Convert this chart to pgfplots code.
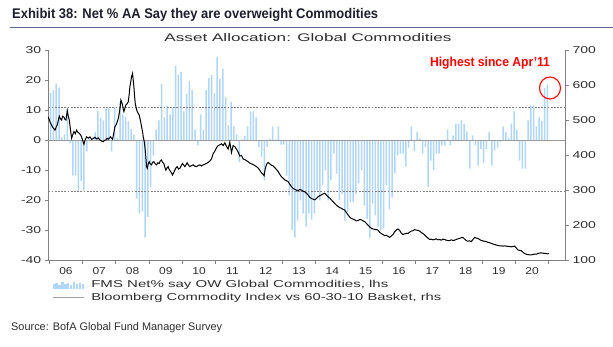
\documentclass[border=0pt]{standalone}
\usepackage{fontspec}
\setmainfont{Liberation Sans}
\usepackage{graphicx}
\usepackage{pgfplots}
\usepackage{pgfplotstable}
\pgfplotsset{compat=1.18}
\definecolor{barblue}{RGB}{178,214,250}
\definecolor{axgray}{RGB}{128,128,128}
\definecolor{txt}{RGB}{45,45,45}
\definecolor{rulec}{RGB}{90,105,135}
\definecolor{titlec}{RGB}{30,30,45}
\newcommand\sy[1]{\scalebox{1.4}[1]{#1}}
\newcommand\sxl[1]{\scalebox{1.2}[1]{#1}}

\pgfplotstableread{
m v
0 15.8
1 16.7
2 18.8
3 17.6
4 1.0
5 2.0
6 10.6
7 -1.0
8 -11.7
9 -11.7
10 -17.2
11 -13.6
12 -16.7
13 -3.7
14 0.5
15 1.0
16 2.7
17 9.8
18 7.6
19 6.7
20 10.7
21 10.7
22 -3.7
23 11.1
24 0.8
25 12.8
26 8.7
27 7.8
28 6.4
29 3.8
30 1.8
31 -19.4
32 -24.4
33 -23.6
34 -32.4
35 -25.5
36 -15.6
37 -5.0
38 3.6
39 6.7
40 18.8
41 7.7
42 11.6
43 8.7
44 10.7
45 24.7
46 21.9
47 22.7
48 9.7
49 15.6
50 19.7
51 16.7
52 3.6
53 -1.7
54 8.7
55 3.6
56 16.7
57 20.7
58 21.8
59 15.7
60 27.8
61 20.6
62 23.7
63 14.3
64 5.0
65 12.8
66 4.7
67 2.0
68 -7.2
69 0.3
70 1.6
71 4.7
72 9.7
73 9.7
74 7.7
75 -2.2
76 -5.5
77 -13.3
78 -2.2
79 0.6
80 4.7
81 0.3
82 4.7
83 -1.4
84 -1.4
85 -11.7
86 -18.3
87 -29.8
88 -32.4
89 -26.7
90 -20.0
91 -24.4
92 -28.7
93 -24.4
94 -26.4
95 -24.4
96 -16.7
97 -20.0
98 -14.7
99 -10.0
100 -20.0
101 -13.3
102 -4.4
103 -11.1
104 -20.0
105 -17.8
106 -26.7
107 -23.9
108 -20.6
109 -20.6
110 -17.8
111 -14.4
112 -10.0
113 -21.7
114 -26.1
115 -32.4
116 -21.1
117 -25.0
118 -28.9
119 -30.0
120 -29.4
121 -15.0
122 -23.0
123 -19.0
124 -11.0
125 -5.0
126 -4.4
127 -4.4
128 -8.7
129 -2.4
130 4.7
131 -3.6
132 2.8
133 0.7
134 -4.4
135 -2.2
136 -15.5
137 -6.7
138 -10.0
139 -4.4
140 -4.4
141 -1.7
142 -1.7
143 3.6
144 -1.7
145 1.7
146 5.6
147 5.6
148 6.7
149 5.6
150 3.0
151 -9.4
152 1.7
153 -1.7
154 -8.3
155 -2.8
156 -7.5
157 -2.8
158 2.8
159 -8.3
160 -3.3
161 -2.4
162 -0.6
163 4.7
164 2.8
165 0.8
166 5.6
167 9.7
168 3.6
169 -6.7
170 -9.4
171 -9.4
172 6.7
173 11.7
174 11.7
175 4.7
176 7.6
177 6.4
178 17.4
179 18.6
}\bars

\pgfplotstableread{
t r
2005.97 510
2006.02 496
2006.06 488
2006.10 480
2006.14 476
2006.17 472
2006.21 482
2006.24 487
2006.27 500
2006.30 512
2006.33 505
2006.37 501
2006.40 512
2006.44 509
2006.47 503
2006.50 501
2006.54 528
2006.57 512
2006.60 501
2006.64 470
2006.67 449
2006.70 458
2006.74 468
2006.78 462
2006.82 472
2006.86 466
2006.90 463
2006.94 458
2006.97 453
2007.01 440
2007.04 432
2007.08 445
2007.12 453
2007.17 449
2007.22 453
2007.27 446
2007.32 448
2007.37 452
2007.42 447
2007.47 450
2007.52 444
2007.57 441
2007.62 439
2007.66 443
2007.70 444
2007.74 449
2007.77 446
2007.81 450
2007.84 453
2007.87 449
2007.90 446
2007.94 465
2007.97 482
2008.01 488
2008.04 496
2008.07 505
2008.10 520
2008.13 540
2008.15 558
2008.18 550
2008.20 544
2008.22 532
2008.24 525
2008.27 535
2008.30 544
2008.34 548
2008.37 553
2008.40 575
2008.42 596
2008.45 612
2008.47 625
2008.50 634
2008.52 615
2008.54 596
2008.56 570
2008.58 549
2008.61 535
2008.64 525
2008.67 520
2008.70 515
2008.74 498
2008.77 482
2008.80 468
2008.82 453
2008.85 440
2008.87 425
2008.90 395
2008.92 368
2008.94 363
2008.97 375
2009.00 382
2009.03 376
2009.07 373
2009.10 380
2009.14 382
2009.18 376
2009.22 373
2009.26 379
2009.30 377
2009.33 384
2009.37 387
2009.40 380
2009.44 377
2009.47 366
2009.50 358
2009.54 365
2009.57 368
2009.60 360
2009.64 354
2009.67 350
2009.70 344
2009.74 352
2009.77 358
2009.80 364
2009.84 368
2009.88 361
2009.92 363
2009.96 370
2010.00 377
2010.04 372
2010.07 368
2010.11 374
2010.14 379
2010.18 372
2010.22 368
2010.27 371
2010.32 373
2010.37 369
2010.42 368
2010.47 371
2010.52 373
2010.57 370
2010.62 373
2010.67 375
2010.72 377
2010.77 380
2010.82 384
2010.87 390
2010.92 405
2010.97 412
2011.02 422
2011.07 428
2011.12 430
2011.17 433
2011.22 428
2011.27 436
2011.32 426
2011.37 418
2011.42 438
2011.47 408
2011.52 428
2011.57 425
2011.62 418
2011.67 410
2011.72 398
2011.77 400
2011.82 390
2011.87 388
2011.92 385
2011.97 382
2012.02 378
2012.07 376
2012.12 374
2012.17 371
2012.22 368
2012.27 364
2012.32 358
2012.37 350
2012.42 346
2012.45 342
2012.48 360
2012.52 374
2012.57 380
2012.62 376
2012.67 372
2012.72 370
2012.77 365
2012.82 360
2012.87 354
2012.92 346
2012.97 339
2013.02 335
2013.07 330
2013.12 328
2013.17 325
2013.22 318
2013.27 311
2013.32 306
2013.37 303
2013.42 301
2013.47 299
2013.52 303
2013.57 301
2013.62 298
2013.67 296
2013.72 292
2013.77 287
2013.82 281
2013.87 277
2013.92 275
2013.97 273
2014.02 277
2014.07 282
2014.12 285
2014.17 287
2014.22 290
2014.27 292
2014.32 287
2014.37 282
2014.42 278
2014.47 273
2014.52 268
2014.57 263
2014.62 258
2014.67 254
2014.72 251
2014.77 249
2014.82 246
2014.87 244
2014.92 237
2014.97 230
2015.02 224
2015.07 220
2015.12 218
2015.17 216
2015.22 213
2015.27 214
2015.32 217
2015.37 216
2015.42 213
2015.47 211
2015.52 206
2015.57 201
2015.62 196
2015.67 192
2015.72 190
2015.77 189
2015.82 188
2015.87 187
2015.92 180
2015.97 177
2016.02 174
2016.07 171
2016.12 172
2016.17 169
2016.22 166
2016.27 170
2016.32 174
2016.37 182
2016.42 187
2016.47 190
2016.52 186
2016.57 178
2016.62 174
2016.67 176
2016.72 178
2016.77 177
2016.82 181
2016.87 184
2016.92 185
2016.97 188
2017.02 187
2017.07 186
2017.12 184
2017.17 180
2017.22 177
2017.27 173
2017.32 168
2017.37 164
2017.42 160
2017.47 161
2017.52 159
2017.57 160
2017.62 162
2017.67 159
2017.72 160
2017.77 158
2017.82 161
2017.87 160
2017.92 158
2017.97 157
2018.02 157
2018.07 159
2018.12 157
2018.17 158
2018.22 160
2018.27 162
2018.32 163
2018.37 165
2018.42 166
2018.47 161
2018.52 157
2018.57 155
2018.62 156
2018.67 154
2018.72 160
2018.77 166
2018.82 164
2018.87 163
2018.92 160
2018.97 157
2019.02 156
2019.07 155
2019.12 154
2019.17 152
2019.22 151
2019.27 149
2019.32 147
2019.37 146
2019.42 144
2019.47 143
2019.52 142
2019.57 142
2019.62 141
2019.67 142
2019.72 141
2019.77 140
2019.82 140
2019.87 139
2019.92 140
2019.97 141
2020.02 136
2020.07 130
2020.12 129
2020.17 128
2020.22 124
2020.27 120
2020.32 118
2020.37 117
2020.42 116
2020.47 116
2020.52 117
2020.57 118
2020.62 118
2020.67 120
2020.72 121
2020.77 122
2020.82 121
2020.87 120
2020.92 120
2020.97 119
2021.00 120
}\bcom

\begin{document}
\begin{tikzpicture}
\path[use as bounding box] (0,0) rectangle (613pt,346pt);
\begin{axis}[
  at={(48.3pt,85.5pt)}, anchor=south west,
  width=517.2pt, height=210.2pt, scale only axis,
  xmin=2005.97, xmax=2021.5, ymin=-40, ymax=30,
  axis x line*=bottom, axis y line*=left,
  axis line style={axgray, line width=0.8pt, -},
  tick style={axgray, line width=0.8pt},
  tick align=outside, major tick length=3.5pt,
  xtick={2006,...,2021},
  x tick label as interval,
  xticklabels={\sxl{06},\sxl{07},\sxl{08},\sxl{09},\sxl{10},\sxl{11},\sxl{12},\sxl{13},\sxl{14},\sxl{15},\sxl{16},\sxl{17},\sxl{18},\sxl{19},\sxl{20},{}},
  ytick={-40,-30,-20,-10,0,10,20,30},
  yticklabels={\sy{-40},\sy{-30},\sy{-20},\sy{-10},\sy{0},\sy{10},\sy{20},\sy{30}},
  ticklabel style={font=\fontsize{10}{12}\selectfont, text=txt},
  clip=false,
]
\addplot[ybar, bar width=1.5pt, fill=barblue, draw=none, forget plot]
  table[x expr={2006+(\thisrow{m}+0.5)/12}, y=v]{\bars};
\addplot[color=axgray!80, line width=0.8pt, forget plot] coordinates {(2005.97,0) (2021.5,0)};
\addplot[color=axgray, line width=0.7pt, dash pattern=on 1.8pt off 1.4pt, forget plot] coordinates {(2005.97,11.1) (2021.5,11.1)};
\addplot[color=axgray, line width=0.7pt, dash pattern=on 1.8pt off 1.4pt, forget plot] coordinates {(2005.97,-16.9) (2021.5,-16.9)};
\end{axis}
\begin{axis}[
  at={(48.3pt,85.5pt)}, anchor=south west,
  width=517.2pt, height=210.2pt, scale only axis,
  xmin=2005.97, xmax=2021.5, ymin=100, ymax=700,
  axis y line*=right, axis x line=none,
  axis line style={axgray, line width=0.8pt, -},
  tick style={axgray, line width=0.8pt},
  tick align=outside, major tick length=3.5pt,
  ytick={100,200,300,400,500,600,700},
  yticklabels={\sy{100},\sy{200},\sy{300},\sy{400},\sy{500},\sy{600},\sy{700}},
  ticklabel style={font=\fontsize{10}{12}\selectfont, text=txt},
  clip=false,
  legend style={at={(0.007,-0.085)}, anchor=north west, draw=none, fill=none,
    font=\fontsize{10}{12}\selectfont, text=txt, inner sep=0pt, row sep=0pt,
    /tikz/every odd column/.append style={column sep=5pt}},
  legend cell align=left,
]
\addplot[black, line width=1pt, forget plot] table[x=t, y=r]{\bcom};
\addlegendimage{legend image code/.code={
  \foreach \i/\h in {0/4,1/5.5,2/3.5,3/6,4/4.5,5/5,6/3.5,7/6,8/4,9/5,10/4.5}{
    \fill[barblue] (\i*2.9pt,-3.5pt) rectangle ++(1.4pt,\h pt);}
}}
\addlegendentry{\resizebox{297pt}{\height}{FMS Net\% say OW Global Commodities, lhs}}
\addlegendimage{legend image code/.code={\draw[gray!75, line width=1.2pt] (0pt,0pt) -- (31pt,0pt);}}
\addlegendentry{\resizebox{350pt}{\height}{Bloomberg Commodity Index vs 60-30-10 Basket, rhs}}
\end{axis}
\node[anchor=west, inner sep=0pt, text=titlec] at (12pt,331pt) {\resizebox{366pt}{\height}{\fontsize{14}{16}\selectfont\bfseries Exhibit 38: Net \% AA Say they are overweight Commodities}};
\draw[rulec, line width=1pt] (10pt,318pt) -- (613pt,318pt);
\node[inner sep=0pt, text=txt] at (308pt,308pt) {\resizebox{287pt}{\height}{\fontsize{11}{13}\selectfont Asset Allocation: Global Commodities}};
\node[inner sep=0pt, text=red] at (490pt,283pt) {\resizebox{120pt}{\height}{\fontsize{13}{15}\selectfont\bfseries Highest since Apr'11}};
\draw[red, line width=1.1pt] (550pt,258pt) ellipse [x radius=10.5pt, y radius=11pt];
\node[anchor=west, inner sep=0pt, text=txt] at (11pt,18pt) {\resizebox{211pt}{\height}{\fontsize{11}{13}\selectfont Source: BofA Global Fund Manager Survey}};
\end{tikzpicture}
\end{document}
